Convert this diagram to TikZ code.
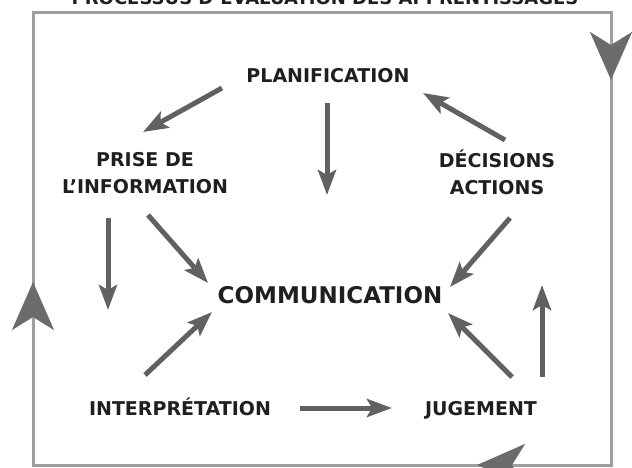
\documentclass[tikz,border=0pt]{standalone}
\usepackage{fontspec}
\setmainfont{DejaVu Sans}
\usetikzlibrary{arrows.meta}
\usetikzlibrary{positioning}

\begin{document}
\begin{tikzpicture}[x=1pt,y=-1pt,
  etape/.style={font=\fontsize{19}{27}\selectfont\bfseries,text=black!88,inner sep=0pt,align=center},
  flow/.style={draw=black!62,line width=5pt,-{Stealth[length=25pt,width=18pt,inset=5pt]}},
  boucle/.style={draw=black!38,line width=3pt},
  bouclehead/.style={draw=black!38,line width=3pt,-{Stealth[length=48pt,width=42pt,inset=13pt,color=black!58]}}]
\useasboundingbox (0,0) rectangle (632,467);

% titre, coupe en haut
\node[etape,font=\fontsize{18}{22}\selectfont\bfseries,anchor=base] (titre) at (325,4) {PROCESSUS D'ÉVALUATION DES APPRENTISSAGES};

% cadre du cycle
\draw[boucle] (33,12) rectangle (611,465);
\draw[bouclehead] (611,30) -- (611,80);
\draw[bouclehead] (530,465) -- (477,465);
\draw[bouclehead] (33,332) -- (33,282);

% etapes
\node[etape,anchor=base] (plan) at (328,82) {PLANIFICATION};
\node[etape] (prise) at (145,173.5) {PRISE DE\\L'INFORMATION};
\node[etape] (decis) at (497,172.5) {DÉCISIONS\\ACTIONS};
\node[etape,font=\fontsize{23}{27}\selectfont\bfseries,anchor=base] (comm) at (330,303.5) {COMMUNICATION};
\node[etape,anchor=base] (interp) at (180,415) {INTERPRÉTATION};
\node[etape,anchor=base] (juge) at (481,415) {JUGEMENT};

% fleches
\draw[flow] ([shift={(-106,6)}]plan.base) -- ([shift={(-2,-41.5)}]prise.center);
\draw[flow] ([shift={(-1,21)}]plan.base) -- ([shift={(-3,-108.5)}]comm.base);
\draw[flow] ([shift={(8,-32.5)}]decis.center) -- ([shift={(95,11)}]plan.base);
\draw[flow] ([shift={(-37,44.5)}]prise.center) -- ([shift={(-72,-105)}]interp.base);
\draw[flow] ([shift={(3,41.5)}]prise.center) -- ([shift={(-122,-20.5)}]comm.base);
\draw[flow] ([shift={(-35,-40)}]interp.base) -- ([shift={(-118,8.5)}]comm.base);
\draw[flow] ([shift={(13,45.5)}]decis.center) -- ([shift={(120,-16.5)}]comm.base);
\draw[flow] ([shift={(31,-38)}]juge.base) -- ([shift={(118,9.5)}]comm.base);
\draw[flow] ([shift={(61,-38)}]juge.base) -- ([shift={(45,112.5)}]decis.center);
\draw[flow] ([shift={(120,-7)}]interp.base) -- ([shift={(-89,-7)}]juge.base);

\end{tikzpicture}
\end{document}
